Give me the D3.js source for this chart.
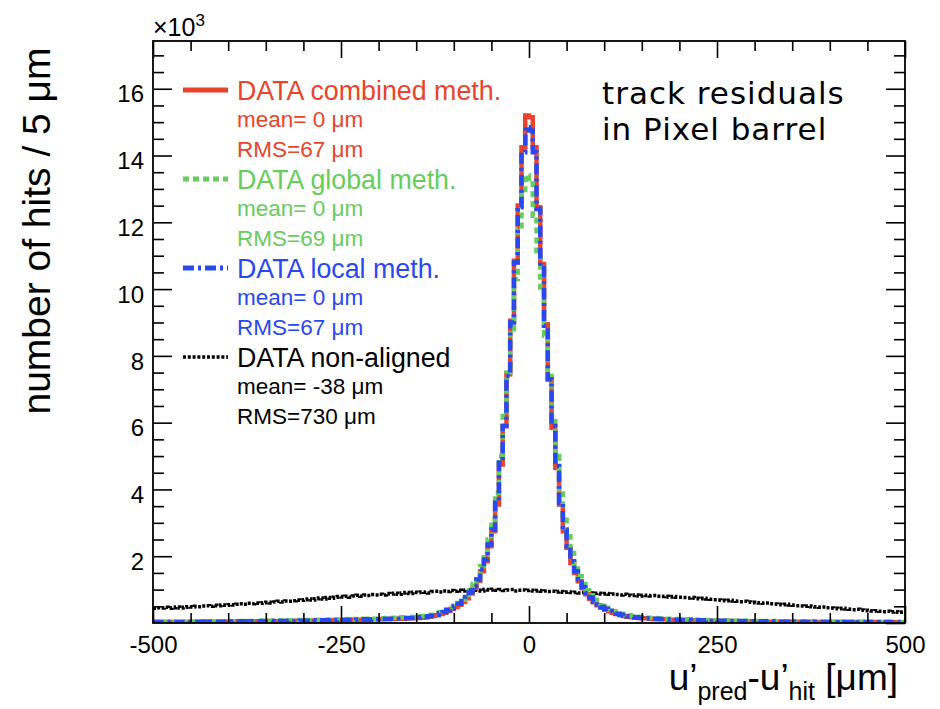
<!DOCTYPE html>
<html lang="en">
<head>
<meta charset="UTF-8">
<title>track residuals in Pixel barrel</title>
<script src="https://d3js.org/d3.v7.min.js"></script>
<style>
  body { margin: 0; background: #fff; }
  text { font-family: "Liberation Sans", Arial, Helvetica, sans-serif; fill: #000; }
  .tick text { font-size: 24px; }
  .tick line { stroke: #000; stroke-width: 1.6px; }
  .hist { fill: none; }
</style>
</head>
<body>
<div id="chart"></div>
<script>
// residual bins: 5 um wide, from -500 to 500 (values in units of 10^3 hits)
const binWidth = 5;
const binEdges = d3.range(-500, 500 + binWidth, binWidth);

const combined = [
  0.03,0.02,0.03,0.03,0.02,0.03,0.03,0.03,0.02,0.03,0.03,0.04,0.03,0.03,0.03,0.04,0.03,0.04,0.04,0.03,
  0.04,0.04,0.05,0.04,0.04,0.05,0.05,0.04,0.05,0.05,0.05,0.06,0.05,0.05,0.06,0.06,0.06,0.06,0.07,0.06,
  0.07,0.07,0.07,0.08,0.07,0.08,0.08,0.08,0.09,0.08,0.09,0.09,0.09,0.10,0.09,0.10,0.10,0.10,0.11,0.11,
  0.11,0.12,0.12,0.12,0.13,0.13,0.13,0.14,0.14,0.15,
  0.15,0.16,0.17,0.19,0.21,0.23,0.27,0.31,0.36,0.42,
  0.48,0.55,0.63,0.74,0.88,1.05,1.26,1.55,1.85,2.30,
  2.75,3.55,4.75,5.90,7.45,9.05,10.85,12.50,14.25,15.20,
  15.15,14.25,12.45,10.75,8.95,7.30,5.85,4.65,3.55,2.75,
  2.25,1.80,1.50,1.25,1.04,0.86,0.73,0.62,0.53,0.46,
  0.40,0.35,0.31,0.27,0.24,0.21,0.19,0.17,0.16,0.15,
  0.14,0.14,0.13,0.12,0.12,0.11,0.11,0.10,0.10,0.09,
  0.09,0.08,0.09,0.08,0.08,0.07,0.07,0.07,0.07,0.06,0.06,0.06,0.06,0.05,0.06,0.05,0.05,0.05,0.05,0.05,
  0.04,0.05,0.04,0.04,0.04,0.04,0.04,0.03,0.04,0.04,0.03,0.03,0.04,0.03,0.03,0.03,0.03,0.03,0.03,0.02,
  0.03,0.02,0.03,0.03,0.02,0.03,0.02,0.02,0.03,0.02,0.02,0.03,0.02,0.02,0.02,0.03,0.02,0.02,0.02,0.02
];

const global = [
  0.03,0.03,0.03,0.04,0.03,0.03,0.04,0.03,0.04,0.04,0.04,0.04,0.05,0.04,0.04,0.05,0.04,0.05,0.05,0.05,
  0.05,0.05,0.06,0.05,0.06,0.06,0.06,0.06,0.07,0.06,0.07,0.07,0.07,0.07,0.08,0.07,0.08,0.08,0.08,0.09,
  0.08,0.09,0.09,0.09,0.10,0.09,0.10,0.10,0.11,0.10,0.11,0.11,0.12,0.11,0.12,0.12,0.13,0.12,0.13,0.13,
  0.14,0.14,0.15,0.15,0.16,0.16,0.17,0.17,0.18,0.18,
  0.19,0.20,0.21,0.23,0.25,0.28,0.32,0.36,0.41,0.47,
  0.52,0.60,0.70,0.83,0.98,1.17,1.40,1.70,2.05,2.50,
  3.10,3.90,5.00,6.20,7.50,8.80,10.30,11.80,12.90,13.40,
  13.30,12.20,11.00,9.90,8.60,7.40,6.20,5.00,4.00,3.20,
  2.60,2.10,1.72,1.40,1.17,0.98,0.83,0.70,0.60,0.52,
  0.46,0.40,0.35,0.31,0.28,0.25,0.23,0.21,0.19,0.18,
  0.17,0.16,0.16,0.15,0.14,0.14,0.13,0.13,0.12,0.12,
  0.11,0.11,0.11,0.10,0.10,0.10,0.09,0.09,0.09,0.08,0.08,0.08,0.08,0.07,0.07,0.07,0.07,0.07,0.06,0.06,
  0.06,0.06,0.06,0.05,0.06,0.05,0.05,0.05,0.05,0.05,0.04,0.05,0.04,0.04,0.05,0.04,0.04,0.04,0.04,0.04,
  0.04,0.03,0.04,0.03,0.04,0.03,0.03,0.04,0.03,0.03,0.03,0.03,0.03,0.03,0.03,0.02,0.03,0.03,0.03,0.03
];

const local = [
  0.03,0.03,0.02,0.03,0.03,0.03,0.02,0.03,0.03,0.03,0.04,0.03,0.03,0.04,0.03,0.04,0.04,0.03,0.04,0.04,
  0.04,0.05,0.04,0.05,0.05,0.04,0.05,0.05,0.05,0.06,0.05,0.06,0.05,0.06,0.06,0.06,0.07,0.06,0.06,0.07,
  0.07,0.07,0.08,0.07,0.08,0.08,0.08,0.09,0.08,0.09,0.09,0.09,0.10,0.09,0.10,0.10,0.11,0.10,0.11,0.11,
  0.12,0.12,0.12,0.13,0.13,0.13,0.14,0.14,0.15,0.15,
  0.16,0.17,0.18,0.20,0.22,0.25,0.29,0.33,0.38,0.44,
  0.50,0.58,0.66,0.78,0.92,1.10,1.30,1.60,1.90,2.35,
  2.80,3.60,4.80,5.90,7.40,9.00,10.80,12.45,14.10,14.85,
  14.75,14.10,12.40,10.70,8.90,7.30,5.90,4.70,3.60,2.80,
  2.30,1.85,1.55,1.30,1.08,0.90,0.76,0.64,0.56,0.48,
  0.42,0.37,0.32,0.28,0.25,0.22,0.20,0.18,0.17,0.16,
  0.15,0.14,0.14,0.13,0.12,0.12,0.11,0.11,0.10,0.10,
  0.09,0.09,0.09,0.08,0.08,0.08,0.07,0.08,0.07,0.07,0.06,0.07,0.06,0.06,0.06,0.05,0.06,0.05,0.05,0.05,
  0.05,0.04,0.05,0.04,0.05,0.04,0.04,0.04,0.04,0.03,0.04,0.04,0.03,0.04,0.03,0.03,0.04,0.03,0.03,0.03,
  0.03,0.03,0.02,0.03,0.03,0.03,0.02,0.03,0.03,0.02,0.03,0.02,0.03,0.02,0.02,0.03,0.02,0.02,0.03,0.02
];

const nonAligned = [
  0.44,0.46,0.45,0.47,0.44,0.46,0.48,0.45,0.47,0.49,
  0.48,0.50,0.49,0.51,0.52,0.50,0.53,0.52,0.54,0.53,
  0.55,0.54,0.56,0.58,0.56,0.59,0.58,0.60,0.59,0.61,
  0.62,0.60,0.63,0.65,0.63,0.66,0.65,0.67,0.69,0.68,
  0.70,0.72,0.69,0.73,0.75,0.72,0.76,0.74,0.77,0.79,
  0.78,0.80,0.77,0.81,0.83,0.80,0.84,0.82,0.85,0.84,
  0.86,0.84,0.88,0.87,0.89,0.86,0.90,0.91,0.88,0.92,
  0.91,0.93,0.92,0.90,0.94,0.95,0.93,0.96,0.94,0.97,
  0.95,0.98,0.96,0.99,0.97,1.00,0.98,0.96,1.00,0.99,
  1.01,0.98,1.00,0.97,0.99,1.00,0.96,0.98,0.99,0.97,
  0.98,0.96,0.97,0.95,0.96,0.94,0.95,0.93,0.94,0.92,
  0.93,0.91,0.92,0.90,0.91,0.89,0.90,0.88,0.89,0.87,
  0.88,0.86,0.87,0.85,0.84,0.86,0.83,0.82,0.84,0.81,
  0.83,0.82,0.81,0.82,0.80,0.79,0.80,0.78,0.79,0.77,
  0.77,0.76,0.75,0.76,0.74,0.73,0.74,0.72,0.71,0.70,
  0.69,0.68,0.67,0.68,0.66,0.65,0.64,0.65,0.63,0.62,
  0.61,0.60,0.59,0.60,0.58,0.57,0.56,0.55,0.56,0.54,
  0.53,0.52,0.51,0.50,0.51,0.49,0.48,0.47,0.48,0.46,
  0.45,0.44,0.43,0.44,0.42,0.41,0.40,0.41,0.39,0.38,
  0.37,0.36,0.37,0.35,0.34,0.35,0.33,0.34,0.32,0.33
];

const seriesNames = ["DATA combined meth.", "DATA global meth.", "DATA local meth.", "DATA non-aligned"];
const seriesMeans = [0, 0, 0, -38];
const seriesRMS = [67, 69, 67, 730];
const seriesColors = ["#e9442b", "#66cc5c", "#2848f2", "#000000"];

const xMajorTicks = [-500, -250, 0, 250, 500];
const yMajorTicks = [2, 4, 6, 8, 10, 12, 14, 16];

// layout
const width = 940, height = 709;
const margin = {top: 41, right: 35, bottom: 86, left: 153};
const plotW = width - margin.left - margin.right;
const plotH = height - margin.top - margin.bottom;

const svg = d3.select("#chart").append("svg")
    .attr("width", width)
    .attr("height", height);

const g = svg.append("g")
    .attr("transform", `translate(${margin.left},${margin.top})`);

const x = d3.scaleLinear().domain([-500, 500]).range([0, plotW]);
const y = d3.scaleLinear().domain([0, 17.43]).range([plotH, 0]);

// histograms
g.append("clipPath").attr("id", "plotClip")
  .append("rect").attr("width", plotW).attr("height", plotH);

const line = d3.line()
    .x(d => x(d[0]))
    .y(d => y(d[1]))
    .curve(d3.curveStepAfter);

function histPoints(values) {
  const pts = values.map((v, i) => [binEdges[i], v]);
  pts.push([binEdges[values.length], values[values.length - 1]]);
  return pts;
}

const hists = [
  {data: nonAligned, color: seriesColors[3], dash: "3 1.8", w: 3.5},
  {data: combined, color: seriesColors[0], dash: null, w: 4.5},
  {data: global, color: seriesColors[1], dash: "6 4", w: 4.5},
  {data: local, color: seriesColors[2], dash: "11 4 3 4", w: 4.5}
];

const histG = g.append("g").attr("clip-path", "url(#plotClip)");
hists.forEach(h => {
  histG.append("path")
    .attr("class", "hist")
    .attr("d", line(histPoints(h.data)))
    .attr("stroke", h.color)
    .attr("stroke-width", h.w)
    .attr("stroke-dasharray", h.dash);
});

// axes: ticks on all four sides, pointing inward
const minorX = d3.range(-500, 501, 50).filter(v => !xMajorTicks.includes(v));
const minorY = d3.range(0.5, 17.4, 0.5).filter(v => v % 2 !== 0);

function addAxis(axis, tx, ty) {
  const a = g.append("g").attr("transform", `translate(${tx},${ty})`).call(axis);
  a.select(".domain").remove();
  return a;
}

addAxis(d3.axisBottom(x).tickValues(xMajorTicks).tickSizeInner(-17).tickSizeOuter(0)
  .tickPadding(13).tickFormat(d => String(d)), 0, plotH);
addAxis(d3.axisBottom(x).tickValues(minorX).tickSizeInner(-10).tickSizeOuter(0).tickFormat(""), 0, plotH);
addAxis(d3.axisTop(x).tickValues(xMajorTicks).tickSizeInner(-17).tickSizeOuter(0).tickFormat(""), 0, 0);
addAxis(d3.axisTop(x).tickValues(minorX).tickSizeInner(-10).tickSizeOuter(0).tickFormat(""), 0, 0);

const yAx = addAxis(d3.axisLeft(y).tickValues(yMajorTicks).tickSizeInner(-19).tickSizeOuter(0)
  .tickPadding(9).tickFormat(d => String(d)), 0, 0);
yAx.selectAll("text").attr("dy", "0.55em");
addAxis(d3.axisLeft(y).tickValues(minorY).tickSizeInner(-11).tickSizeOuter(0).tickFormat(""), 0, 0);
addAxis(d3.axisRight(y).tickValues([0].concat(yMajorTicks)).tickSizeInner(-19).tickSizeOuter(0).tickFormat(""), plotW, 0);
addAxis(d3.axisRight(y).tickValues(minorY).tickSizeInner(-11).tickSizeOuter(0).tickFormat(""), plotW, 0);

g.selectAll(".tick text").attr("font-family", null).attr("font-size", null);

// frame
g.append("rect")
  .attr("width", plotW).attr("height", plotH)
  .attr("fill", "none").attr("stroke", "#000").attr("stroke-width", 1.8);

// exponent label
const expo = svg.append("text")
  .attr("x", margin.left).attr("y", 36)
  .style("font-size", "25px");
expo.append("tspan").text("\u00d710");
expo.append("tspan").attr("dy", -10).style("font-size", "17px").text("3");

// axis titles
svg.append("text")
  .attr("transform", "translate(50,231) rotate(-90)")
  .attr("text-anchor", "middle")
  .style("font-size", "39px")
  .text("number of hits / 5 \u03bcm");

const xt = svg.append("text")
  .attr("x", 898).attr("y", 690)
  .attr("text-anchor", "end")
  .style("font-size", "37px");
xt.append("tspan").text("u\u2019");
xt.append("tspan").attr("dy", 10).style("font-size", "25px").text("pred");
xt.append("tspan").attr("dy", -10).text("-u\u2019");
xt.append("tspan").attr("dy", 10).style("font-size", "25px").text("hit");
xt.append("tspan").attr("dy", -10).text(" [\u03bcm]");

// legend
const legend = svg.append("g");
const legendDash = [null, "6 4", "11 4 3 4", "3 1.8"];
seriesNames.forEach((name, i) => {
  const ly = 90 + i * 89;
  legend.append("line")
    .attr("x1", 183).attr("x2", 228).attr("y1", ly).attr("y2", ly)
    .attr("stroke", seriesColors[i])
    .attr("stroke-width", i === 3 ? 3.5 : 5)
    .attr("stroke-dasharray", legendDash[i]);
  legend.append("text")
    .attr("x", 237).attr("y", ly + 10)
    .style("font-size", "26.8px").style("fill", seriesColors[i])
    .text(name);
  legend.append("text")
    .attr("x", 237).attr("y", ly + 37)
    .style("font-size", "22.5px").style("fill", seriesColors[i])
    .text(`mean= ${seriesMeans[i]} \u03bcm`);
  legend.append("text")
    .attr("x", 237).attr("y", ly + 67)
    .style("font-size", "22.5px").style("fill", seriesColors[i])
    .text(`RMS=${seriesRMS[i]} \u03bcm`);
});

// annotation
const noteLines = ["track residuals", "in Pixel barrel"];
noteLines.forEach((t, i) => {
  svg.append("text")
    .attr("x", 602).attr("y", 104 + i * 36)
    .style("font-family", "'DejaVu Sans', Verdana, sans-serif")
    .style("font-size", "31px")
    .style("letter-spacing", "1px")
    .text(t);
});
</script>
</body>
</html>
